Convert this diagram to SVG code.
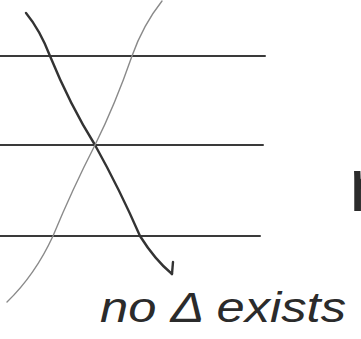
<svg xmlns="http://www.w3.org/2000/svg" width="361" height="339" viewBox="0 0 361 339">
<style>
.hl{stroke:#3a3a3a;stroke-width:2;fill:none;stroke-linecap:round}
.dark{stroke:#333;stroke-width:2.4;fill:none;stroke-linecap:round;stroke-linejoin:round}
.light{stroke:#8a8a8a;stroke-width:1.4;fill:none;stroke-linecap:round}
.hand{font-family:"Liberation Sans",sans-serif;font-style:italic;fill:#2b2b2b}
</style>
<rect width="361" height="339" fill="#fff"/>
<g id="lines">
<line class="hl" x1="0" y1="56" x2="265" y2="56"/>
<line class="hl" x1="0" y1="145" x2="263" y2="145"/>
<line class="hl" x1="0" y1="236" x2="260" y2="236"/>
</g>
<g id="connectors">
<path class="dark" d="M26,13 Q40,30 50,56 Q70,105 95,145 Q120,190 140,236 Q155,260 172,274"/>
<path class="dark" d="M172,274 L173,262"/>
<path class="light" d="M162,1 Q143,25 132,56 Q115,105 95,145 Q72,190 53,236 Q35,275 7,302"/>
</g>
<g id="label">
<text class="hand" x="100" y="322" font-size="42" textLength="246" lengthAdjust="spacingAndGlyphs">no Δ exists</text>
<text x="349" y="211" font-size="76" font-family="Liberation Sans,sans-serif" fill="#2b2b2b">r</text>
</g>
</svg>
